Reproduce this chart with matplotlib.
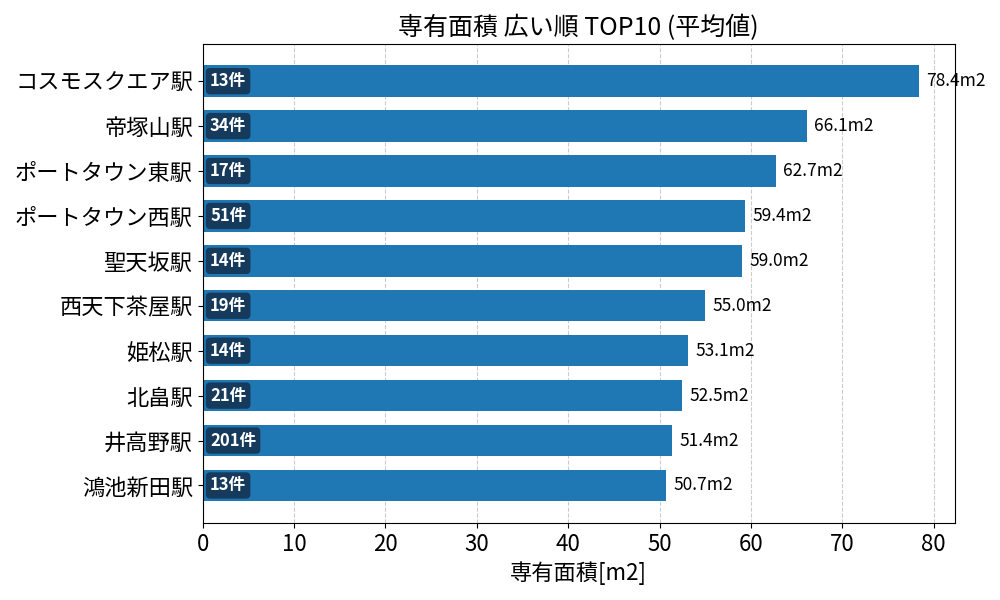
import matplotlib
matplotlib.use('Agg')
import matplotlib.pyplot as plt

plt.rcParams['font.family'] = ['Noto Sans CJK JP', 'DejaVu Sans']

stations = ['コスモスクエア駅', '帝塚山駅', 'ポートタウン東駅', 'ポートタウン西駅', '聖天坂駅',
            '西天下茶屋駅', '姫松駅', '北畠駅', '井高野駅', '鴻池新田駅']
area = [78.4, 66.1, 62.7, 59.4, 59.0, 55.0, 53.1, 52.5, 51.4, 50.7]
counts = [13, 34, 17, 51, 14, 19, 14, 21, 201, 13]

fig, ax = plt.subplots(figsize=(10, 6), dpi=100)

ypos = list(range(len(stations)))[::-1]
bars = ax.barh(ypos, area, height=0.7, color='#1f77b4', zorder=2)

ax.set_yticks(ypos)
ax.set_yticklabels(stations, fontsize=16)
ax.tick_params(axis='x', labelsize=16)
ax.set_xlim(0, max(area) * 1.05)
ax.grid(axis='x', linestyle='--', color='#cccccc', zorder=0)

for y, v, c in zip(ypos, area, counts):
    ax.text(v + 0.8, y, f'{v:.1f}m2', va='center', ha='left', fontsize=12.5)
    ax.text(0.8, y, f'{c}件', va='center', ha='left', fontsize=12, color='white',
            fontweight='bold', zorder=3,
            bbox=dict(boxstyle='round,pad=0.25', facecolor='#153a5b', edgecolor='none'))

ax.set_title('専有面積 広い順 TOP10 (平均値)', fontsize=18)
ax.set_xlabel('専有面積[m2]', fontsize=16)

plt.tight_layout()
plt.savefig('out.png')
